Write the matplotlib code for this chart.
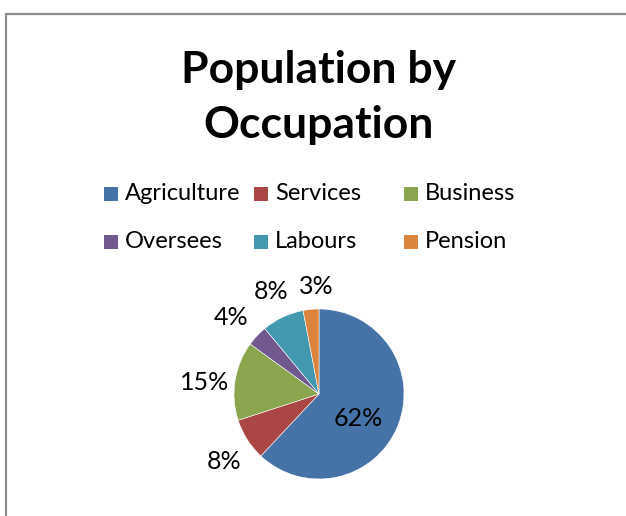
import matplotlib.pyplot as plt
import numpy as np
from matplotlib.patches import Rectangle

# occupation shares (percent)
occupations = ["Agriculture", "Services", "Business", "Oversees", "Labours", "Pension"]
shares = [62, 8, 15, 4, 8, 3]
colors = ["#4572A7", "#AA4643", "#89A54E", "#71588F", "#4198AF", "#DB843D"]

plt.rcParams['font.family'] = ['Lato', 'DejaVu Sans']

W, H = 626, 516
fig = plt.figure(figsize=(W / 100, H / 100), dpi=100)

# chart frame (only the left and top edges are in view)
fig.add_artist(Rectangle((6 / W, -0.2), 2.0, 1.2 - 14 / H, transform=fig.transFigure,
                         fill=False, edgecolor="#8c8c8c", linewidth=1.6, clip_on=False))

fig.text(319 / W, 1 - 70 / H, "Population by", ha="center", va="center",
         fontsize=32, fontweight="bold")
fig.text(319 / W, 1 - 125 / H, "Occupation", ha="center", va="center",
         fontsize=32, fontweight="bold")

# legend: three fixed-width columns, two rows
for i, (name, col) in enumerate(zip(occupations, colors)):
    x = 104 + (i % 3) * 150
    y = 194 + (i // 3) * 48
    fig.add_artist(Rectangle((x / W, 1 - (y + 7) / H), 14 / W, 14 / H,
                             transform=fig.transFigure, facecolor=col, edgecolor="none"))
    fig.text((x + 21) / W, 1 - y / H, name, ha="left", va="center", fontsize=17)

# pie
cx, cy, r = 319, 394, 85
ax = fig.add_axes([(cx - r) / W, (H - cy - r) / H, 2 * r / W, 2 * r / H])
wedges, _ = ax.pie(shares, colors=colors, startangle=90, counterclock=False, radius=1,
                   wedgeprops=dict(edgecolor="white", linewidth=0.4))
ax.set_xlim(-1, 1)
ax.set_ylim(-1, 1)
ax.set_aspect("equal")
ax.axis("off")

# percentage labels: inside for the big slice, outside for the rest
dists = [0.54, 1.37, 1.35, 1.37, 1.33, 1.27]
turns = [-10, 3, 3, 2, 0, -4]
for w, s, d, t in zip(wedges, shares, dists, turns):
    mid = np.deg2rad((w.theta1 + w.theta2) / 2 + t)
    ax.text(d * np.cos(mid), d * np.sin(mid), "%d%%" % s, ha="center", va="center",
            fontsize=18)

fig.savefig("out.png", dpi=100)
